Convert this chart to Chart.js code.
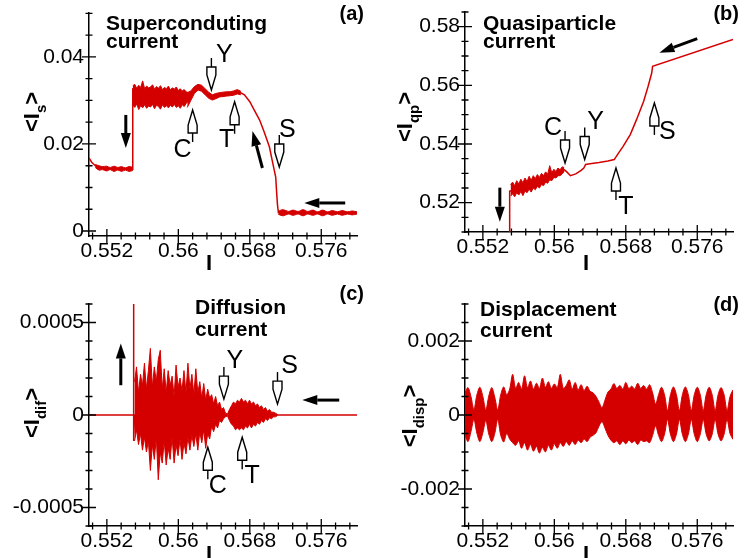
<!DOCTYPE html>
<html>
<head>
<meta charset="utf-8">
<script src="https://cdn.jsdelivr.net/npm/chart.js@4.4.1/dist/chart.umd.min.js"></script>
<style>
  html, body { margin: 0; padding: 0; background: #fff; }
  #wrap { position: relative; width: 746px; height: 558px; overflow: hidden; }
  canvas { position: absolute; }
</style>
</head>
<body>
<div id="wrap">
  <canvas id="chartA" width="373" height="279" style="left:0;top:0"></canvas>
  <canvas id="chartB" width="373" height="279" style="left:373px;top:0"></canvas>
  <canvas id="chartC" width="373" height="279" style="left:0;top:279px"></canvas>
  <canvas id="chartD" width="373" height="279" style="left:373px;top:279px"></canvas>
</div>
<script>
// ---- shared x axis (bias current I) ----
const xMin = 0.55, xMax = 0.58;
const xMajor = [0.552, 0.56, 0.568, 0.576];
const xMajorText = ['0.552', '0.56', '0.568', '0.576'];

// ---- (a) superconducting current ----
const supTicks = [0, 0.02, 0.04];
const supTickText = ['0', '0.02', '0.04'];
const supX = [0.5500, 0.5503, 0.5507, 0.5512, 0.5530, 0.5549, 0.5549, 0.5560, 0.5580, 0.5600, 0.5610, 0.5616, 0.5622, 0.5628, 0.5634, 0.5638, 0.5643, 0.5650, 0.5660, 0.5668, 0.5674, 0.5680, 0.5685, 0.5691, 0.5696, 0.5702, 0.5705, 0.5709, 0.5710, 0.5711, 0.5712, 0.5800];
const supY = [0.0168, 0.0158, 0.0150, 0.0145, 0.0143, 0.0142, 0.0326, 0.0310, 0.0306, 0.0302, 0.0300, 0.0318, 0.0331, 0.0325, 0.0312, 0.0307, 0.0311, 0.0314, 0.0316, 0.0320, 0.0313, 0.0297, 0.0278, 0.0255, 0.0228, 0.0193, 0.0163, 0.0124, 0.0090, 0.0060, 0.0042, 0.0042];
// noisy stretches: x range + upper / lower edge of the red band
const supBeadL = [0.5507, 0.5549];
const supBeadLHi = [0.0153, 0.0150, 0.0148, 0.0149, 0.0146, 0.0149, 0.0146, 0.0148, 0.0145, 0.0148, 0.0146];
const supBeadLLo = [0.0146, 0.0140, 0.0141, 0.0138, 0.0141, 0.0137, 0.0140, 0.0137, 0.0140, 0.0137, 0.0139];
const supNoise = [0.5549, 0.5611];
const supNoiseHi = [0.0334, 0.0337, 0.0328, 0.0335, 0.0330, 0.0345, 0.0327, 0.0333, 0.0329, 0.0331, 0.0336, 0.0326, 0.0332, 0.0328, 0.0334, 0.0325, 0.0330, 0.0327, 0.0333, 0.0324, 0.0329, 0.0326, 0.0331, 0.0323, 0.0327, 0.0322, 0.0325, 0.0320, 0.0318];
const supNoiseLo = [0.0290, 0.0284, 0.0292, 0.0279, 0.0288, 0.0283, 0.0290, 0.0282, 0.0287, 0.0285, 0.0291, 0.0281, 0.0289, 0.0286, 0.0280, 0.0290, 0.0284, 0.0288, 0.0283, 0.0289, 0.0285, 0.0291, 0.0284, 0.0288, 0.0282, 0.0290, 0.0286, 0.0293, 0.0298];
const supThin = [0.5610, 0.5670];
const supThinHi = [0.0318, 0.0322, 0.0332, 0.0337, 0.0335, 0.0327, 0.0319, 0.0313, 0.0316, 0.0318, 0.0319, 0.0320, 0.0320, 0.0322, 0.0325, 0.0321];
const supThinLo = [0.0284, 0.0300, 0.0316, 0.0324, 0.0321, 0.0313, 0.0305, 0.0301, 0.0304, 0.0308, 0.0309, 0.0310, 0.0311, 0.0312, 0.0315, 0.0313];
const supBeadR = [0.5712, 0.5800];
const supBeadRHi = [0.0046, 0.0049, 0.0045, 0.0048, 0.0045, 0.0049, 0.0045, 0.0048, 0.0044, 0.0048, 0.0044, 0.0047, 0.0044, 0.0047, 0.0044, 0.0046, 0.0044];
const supBeadRLo = [0.0038, 0.0035, 0.0039, 0.0036, 0.0039, 0.0035, 0.0039, 0.0036, 0.0039, 0.0035, 0.0039, 0.0036, 0.0039, 0.0036, 0.0039, 0.0037, 0.0039];

// ---- (b) quasiparticle current ----
const qpTicks = [0.52, 0.54, 0.56, 0.58];
const qpTickText = ['0.52', '0.54', '0.56', '0.58'];
const qpX = [0.5550, 0.5550, 0.5560, 0.5580, 0.5600, 0.5610, 0.5614, 0.5618, 0.5624, 0.5630, 0.5633, 0.5635, 0.5640, 0.5650, 0.5660, 0.5667, 0.5672, 0.5677, 0.5685, 0.5692, 0.5700, 0.5705, 0.5709, 0.5710, 0.5800];
const qpY = [0.5090, 0.5239, 0.5245, 0.5265, 0.5290, 0.5315, 0.5305, 0.5292, 0.5298, 0.5310, 0.5318, 0.5330, 0.5333, 0.5337, 0.5342, 0.5347, 0.5370, 0.5392, 0.5432, 0.5483, 0.5546, 0.5597, 0.5642, 0.5665, 0.5756];
const qpNoise = [0.5551, 0.5611];
const qpNoiseHi = [0.5262, 0.5270, 0.5258, 0.5275, 0.5264, 0.5280, 0.5268, 0.5284, 0.5272, 0.5290, 0.5276, 0.5292, 0.5282, 0.5296, 0.5286, 0.5300, 0.5292, 0.5305, 0.5297, 0.5326, 0.5302, 0.5314, 0.5306, 0.5318, 0.5312, 0.5322, 0.5320];
const qpNoiseLo = [0.5222, 0.5230, 0.5220, 0.5234, 0.5226, 0.5238, 0.5224, 0.5240, 0.5234, 0.5246, 0.5236, 0.5250, 0.5244, 0.5256, 0.5250, 0.5262, 0.5258, 0.5270, 0.5266, 0.5278, 0.5275, 0.5286, 0.5284, 0.5292, 0.5292, 0.5298, 0.5306];

// ---- (c) diffusion current (band values in units of 1e-5) ----
const difTicks = [-0.0005, 0, 0.0005];
const difTickText = ['-0.0005', '0', '0.0005'];
const difX = [0.5500, 0.5550, 0.5550, 0.5550, 0.5551, 0.5800];
const difY = [0, 0, 0.0007, -0.00014, 0, 0];
const difBurst = [0.5551, 0.5655];
const difBurstHi = [18, 26, 12, 22, 16, 28, 14, 24, 36, 15, 26, 18, 30, 35, 14, 25, 12, 24, 16, 21, 10, 27, 15, 20, 13, 24, 12, 28, 14, 22, 11, 25, 12, 18, 9, 17, 8, 14, 9, 11, 6, 10, 5, 7, 3, 4, 1, 0.5];
const difBurstLo = [-14, -8, -16, -10, -19, -12, -20, -14, -30, -16, -24, -12, -35, -20, -26, -14, -27, -18, -24, -12, -26, -16, -22, -13, -24, -15, -21, -12, -19, -11, -17, -10, -19, -9, -15, -8, -18, -10, -13, -6, -9, -5, -7, -3, -4, -2, -1, -0.5];
const difTail = [0.5655, 0.5711];
const difTailHi = [0.5, 3, 5, 7, 6, 8, 7, 9, 7, 8, 6, 8, 6, 7, 5, 6, 4, 5, 3, 4, 2, 3, 1.5, 1.5, 1, 0.3];
const difTailLo = [-0.5, -3, -5, -6, -8, -7, -8, -7, -8, -6, -7, -5, -7, -5, -6, -4, -5, -3, -4, -2, -3, -1.5, -2, -1, -1, -0.3];

// ---- (d) displacement current (band values in units of 1e-5) ----
const dispTicks = [-0.002, 0, 0.002];
const dispTickText = ['-0.002', '0', '0.002'];
const dispRange = [0.5500, 0.5800];
const dispHi = [60, 74, 50, 15, 55, 75, 50, 14, 52, 74, 48, 14, 55, 76, 55,
  70, 110, 72, 88, 70, 106, 74, 92, 70, 86, 72, 100, 75, 90, 72, 84, 74, 110, 72, 80, 95, 70, 88, 68, 82, 66, 78, 64, 60, 50, 35, 20, 40, 62, 70, 85, 72, 80, 70, 88, 72, 78, 70, 86, 72, 80, 70, 82, 60,
  30, 55, 75, 55, 12, 55, 76, 55, 12, 55, 76, 55, 12, 55, 75, 55, 12, 55, 75, 55, 12, 55, 74, 55, 12, 50, 68];
const dispLo = [-55, -72, -45, -12, -50, -72, -48, -15, -52, -72, -50, -12, -55, -73, -50,
  -65, -75, -82, -70, -90, -75, -95, -80, -98, -85, -103, -88, -100, -82, -95, -78, -90, -75, -85, -72, -82, -70, -80, -68, -75, -65, -72, -60, -55, -48, -30, -18, -35, -55, -68, -75, -70, -80, -70, -78, -68, -75, -70, -80, -68, -72, -70, -75, -55,
  -30, -55, -72, -52, -12, -52, -72, -52, -12, -52, -72, -52, -12, -52, -72, -52, -12, -52, -70, -52, -12, -52, -70, -52, -12, -50, -66];

const RED = 'rgb(212,0,0)';
const FAMILY = '"Liberation Sans", Arial, sans-serif';

function lineSet(xs, ys) {
    return {
        data: xs.map((x, i) => ({ x: x, y: ys[i] })),
        borderColor: RED, borderWidth: 1.5, pointRadius: 0, fill: false, tension: 0
    };
}

// two datasets, upper edge filled down to lower edge
function bandSets(range, hi, lo, unit, tension) {
    const step = (range[1] - range[0]) / (hi.length - 1);
    return [
        { data: hi.map((v, i) => ({ x: range[0] + i * step, y: v * unit })),
          borderColor: RED, backgroundColor: RED, borderWidth: 1, pointRadius: 0, fill: '+1', tension: tension },
        { data: lo.map((v, i) => ({ x: range[0] + i * step, y: v * unit })),
          borderColor: RED, borderWidth: 1, pointRadius: 0, fill: false, tension: tension }
    ];
}

function pickLabel(v, values, texts) {
    for (let i = 0; i < values.length; i++) {
        if (Math.abs(values[i] - v) < 1e-9) return texts[i];
    }
    return '';
}

function hollowArrow(ctx, x, y, m) {
    const s = m.dir === 'up' ? 1 : -1;
    const w = 4.5, head = 15, body = 8, stem = 9;
    ctx.lineWidth = 1.4;
    ctx.strokeStyle = '#000';
    ctx.fillStyle = '#fff';
    ctx.beginPath();
    ctx.moveTo(x, y);
    ctx.lineTo(x + w, y + s * head);
    ctx.lineTo(x + w, y + s * (head + body));
    ctx.lineTo(x - w, y + s * (head + body));
    ctx.lineTo(x - w, y + s * head);
    ctx.closePath();
    ctx.fill();
    ctx.stroke();
    ctx.beginPath();
    ctx.moveTo(x, y + s * (head + body));
    ctx.lineTo(x, y + s * (head + body + stem));
    ctx.stroke();
    ctx.fillStyle = '#000';
    ctx.font = '25px ' + FAMILY;
    ctx.textAlign = 'center';
    ctx.textBaseline = 'middle';
    ctx.fillText(m.text, x + m.dx, y + m.dy);
}

function solidArrow(ctx, x0, y0, x1, y1) {
    const ang = Math.atan2(y1 - y0, x1 - x0);
    const len = 15, hw = 5;
    const bx = x1 - len * Math.cos(ang), by = y1 - len * Math.sin(ang);
    ctx.strokeStyle = '#000';
    ctx.fillStyle = '#000';
    ctx.lineWidth = 3;
    ctx.beginPath();
    ctx.moveTo(x0, y0);
    ctx.lineTo(bx, by);
    ctx.stroke();
    ctx.beginPath();
    ctx.moveTo(x1, y1);
    ctx.lineTo(bx + hw * Math.sin(ang), by - hw * Math.cos(ang));
    ctx.lineTo(bx - hw * Math.sin(ang), by + hw * Math.cos(ang));
    ctx.closePath();
    ctx.fill();
}

function drawYTitle(ctx, t) {
    ctx.save();
    ctx.translate(t.x, t.y);
    ctx.rotate(-Math.PI / 2);
    ctx.fillStyle = '#000';
    ctx.textBaseline = 'alphabetic';
    ctx.textAlign = 'left';
    const big = 'bold 22px ' + FAMILY, small = 'bold 15px ' + FAMILY;
    ctx.font = big;
    const w1 = ctx.measureText('<I').width, w3 = ctx.measureText('>').width;
    ctx.font = small;
    const w2 = ctx.measureText(t.sub).width;
    let x = -(w1 + w2 + w3) / 2;
    ctx.font = big;
    ctx.fillText('<I', x, 0);
    x += w1;
    ctx.font = small;
    ctx.fillText(t.sub, x, 7);
    x += w2;
    ctx.font = big;
    ctx.fillText('>', x, 0);
    ctx.restore();
}

// ticks crossing the axes, captions, arrows and markers
function decor(cfg) {
    return {
        id: 'decor',
        afterDatasetsDraw(chart) {
            const ctx = chart.ctx, a = chart.chartArea;
            const sx = chart.scales.x, sy = chart.scales.y;
            ctx.save();
            ctx.strokeStyle = '#000';
            ctx.lineWidth = 1.3;
            ctx.beginPath();
            sx.ticks.forEach(t => {
                const p = sx.getPixelForValue(t.value), len = t.label ? 7 : 3.5;
                ctx.moveTo(p, a.bottom - len);
                ctx.lineTo(p, a.bottom + len);
            });
            sy.ticks.forEach(t => {
                const p = sy.getPixelForValue(t.value), len = t.label ? 7 : 3.5;
                ctx.moveTo(a.left - len, p);
                ctx.lineTo(a.left + len, p);
            });
            ctx.stroke();

            ctx.fillStyle = '#000';
            ctx.textBaseline = 'alphabetic';
            ctx.textAlign = 'left';
            ctx.font = 'bold 21px ' + FAMILY;
            cfg.title.forEach(l => ctx.fillText(l[0], l[1], l[2]));
            ctx.textAlign = 'right';
            ctx.font = 'bold 20px ' + FAMILY;
            ctx.fillText(cfg.tag[0], cfg.tag[1], cfg.tag[2]);
            ctx.textAlign = 'center';
            ctx.font = 'bold 22px ' + FAMILY;
            ctx.fillText('I', cfg.xTitle[0], cfg.xTitle[1]);
            drawYTitle(ctx, cfg.yTitle);

            cfg.solid.forEach(s => solidArrow(ctx,
                sx.getPixelForValue(s[0]), sy.getPixelForValue(s[1]),
                sx.getPixelForValue(s[2]), sy.getPixelForValue(s[3])));
            cfg.marks.forEach(m => hollowArrow(ctx, sx.getPixelForValue(m.x), sy.getPixelForValue(m.y), m));
            ctx.restore();
        }
    };
}

function makeChart(id, cfg) {
    const tickFont = { family: FAMILY, size: 21 };
    new Chart(document.getElementById(id), {
        type: 'line',
        data: { datasets: cfg.datasets },
        options: {
            responsive: false,
            animation: false,
            devicePixelRatio: 1,
            events: [],
            layout: { autoPadding: false, padding: cfg.pad },
            plugins: { legend: { display: false }, tooltip: { enabled: false } },
            scales: {
                x: {
                    type: 'linear', min: xMin, max: xMax,
                    grid: { display: false, drawTicks: false },
                    border: { display: true, color: '#000', width: 1.5 },
                    ticks: {
                        stepSize: 0.0016, includeBounds: false, autoSkip: false, maxRotation: 0,
                        padding: 3, color: '#000', font: tickFont,
                        callback: v => pickLabel(v, xMajor, xMajorText)
                    },
                    afterFit: s => { s.height = cfg.xHeight; s.paddingLeft = 0; s.paddingRight = 0; }
                },
                y: {
                    type: 'linear', min: cfg.yMin, max: cfg.yMax,
                    grid: { display: false, drawTicks: false },
                    border: { display: true, color: '#000', width: 1.5 },
                    ticks: {
                        stepSize: cfg.yStep, includeBounds: false, autoSkip: false,
                        padding: 5, color: '#000', font: tickFont,
                        callback: v => pickLabel(v, cfg.yTicks, cfg.yText)
                    },
                    afterFit: s => { s.width = cfg.yWidth; s.paddingTop = 0; s.paddingBottom = 0; }
                }
            }
        },
        plugins: [decor(cfg)]
    });
}

makeChart('chartA', {
    datasets: [lineSet(supX, supY)]
        .concat(bandSets(supBeadL, supBeadLHi, supBeadLLo, 1, 0.4))
        .concat(bandSets(supNoise, supNoiseHi, supNoiseLo, 1, 0))
        .concat(bandSets(supThin, supThinHi, supThinLo, 1, 0))
        .concat(bandSets(supBeadR, supBeadRHi, supBeadRLo, 1, 0.4)),
    pad: { left: 0, top: 13, right: 16, bottom: 0 },
    yWidth: 89, xHeight: 43,
    yMin: -0.00115, yMax: 0.0501, yStep: 0.005, yTicks: supTicks, yText: supTickText,
    title: [['Superconduting', 106, 30], ['current', 106, 48]],
    tag: ['(a)', 364, 20],
    xTitle: [209, 270],
    yTitle: { x: 39, y: 112, sub: 's' },
    solid: [[0.55412, 0.02667, 0.55412, 0.01908], [0.56941, 0.01448, 0.56830, 0.02299], [0.57868, 0.00644, 0.57410, 0.00644]],
    marks: [
        { x: 0.5637, y: 0.0324, dir: 'down', text: 'Y', dx: 13, dy: -35 },
        { x: 0.5616, y: 0.0278, dir: 'up', text: 'C', dx: -10, dy: 40 },
        { x: 0.5663, y: 0.0297, dir: 'up', text: 'T', dx: -8, dy: 38 },
        { x: 0.5713, y: 0.0147, dir: 'down', text: 'S', dx: 8, dy: -37 }
    ]
});

makeChart('chartB', {
    datasets: [lineSet(qpX, qpY)].concat(bandSets(qpNoise, qpNoiseHi, qpNoiseLo, 1, 0)),
    pad: { left: 0, top: 12, right: 13, bottom: 0 },
    yWidth: 92, xHeight: 47,
    yMin: 0.51, yMax: 0.585, yStep: 0.005, yTicks: qpTicks, yText: qpTickText,
    title: [['Quasiparticle', 110, 30], ['current', 110, 48]],
    tag: ['(b)', 366, 20],
    xTitle: [213, 270],
    yTitle: { x: 39, y: 117, sub: 'qp' },
    solid: [[0.55390, 0.52512, 0.55390, 0.51352], [0.57600, 0.57592, 0.57176, 0.57115]],
    marks: [
        { x: 0.5612, y: 0.5335, dir: 'down', text: 'C', dx: -12, dy: -35 },
        { x: 0.5634, y: 0.5347, dir: 'down', text: 'Y', dx: 11, dy: -37 },
        { x: 0.5669, y: 0.5318, dir: 'up', text: 'T', dx: 10, dy: 39 },
        { x: 0.5712, y: 0.5540, dir: 'up', text: 'S', dx: 13, dy: 29 }
    ]
});

makeChart('chartC', {
    datasets: [lineSet(difX, difY)]
        .concat(bandSets(difBurst, difBurstHi, difBurstLo, 1e-5, 0))
        .concat(bandSets(difTail, difTailHi, difTailLo, 1e-5, 0)),
    pad: { left: 0, top: 25, right: 16, bottom: 0 },
    yWidth: 89, xHeight: 32,
    yMin: -0.0006, yMax: 0.0006, yStep: 0.0001, yTicks: difTicks, yText: difTickText,
    title: [['Diffusion', 195, 35], ['current', 195, 57]],
    tag: ['(c)', 364, 21],
    xTitle: [209, 282],
    yTitle: { x: 39, y: 134, sub: 'dif' },
    solid: [[0.55356, 0.000161, 0.55356, 0.000387], [0.57801, 0.0000806, 0.57388, 0.0000806]],
    marks: [
        { x: 0.5651, y: 0.000086, dir: 'down', text: 'Y', dx: 11, dy: -38 },
        { x: 0.5711, y: 0.000059, dir: 'down', text: 'S', dx: 12, dy: -38 },
        { x: 0.5633, y: -0.000174, dir: 'up', text: 'C', dx: 10, dy: 39 },
        { x: 0.56715, y: -0.00012, dir: 'up', text: 'T', dx: 10, dy: 39 }
    ]
});

makeChart('chartD', {
    datasets: bandSets(dispRange, dispHi, dispLo, 1e-5, 0.3),
    pad: { left: 0, top: 25, right: 13, bottom: 0 },
    yWidth: 92, xHeight: 32,
    yMin: -0.003, yMax: 0.003, yStep: 0.0005, yTicks: dispTicks, yText: dispTickText,
    title: [['Displacement', 107, 37], ['current', 107, 58]],
    tag: ['(d)', 366, 32],
    xTitle: [213, 282],
    yTitle: { x: 44, y: 137, sub: 'disp' },
    solid: [],
    marks: []
});
</script>
</body>
</html>
